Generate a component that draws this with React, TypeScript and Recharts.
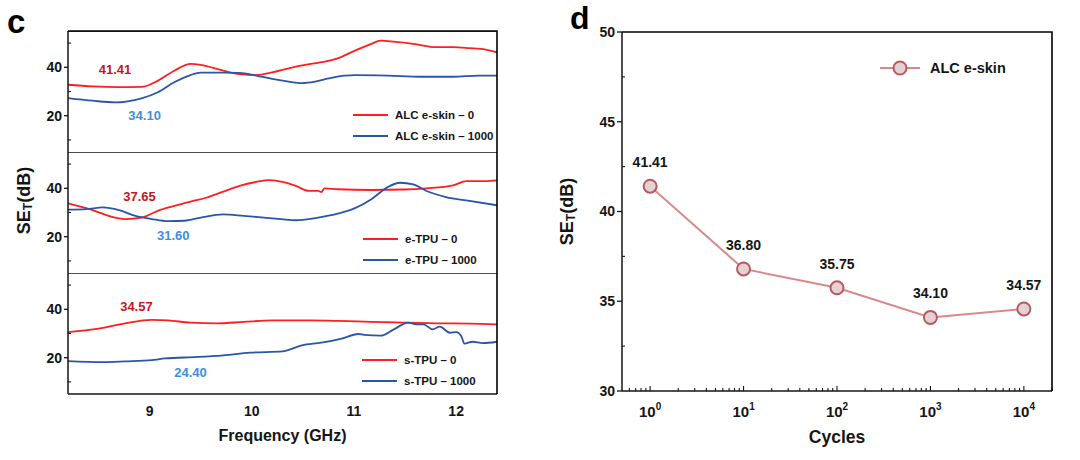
import React from 'react';
import { LineChart, Line, XAxis, YAxis, ReferenceDot, ReferenceLine, Legend, LabelList } from 'recharts';

const FONT = '"Liberation Sans", Arial, Helvetica, sans-serif';
const INK = '#151515';
const RED = '#ff1e1e';
const BLUE = '#2a55a8';
const RED_NOTE = '#c5161d';
const BLUE_NOTE = '#3d8fde';
const ROSE_LINE = '#d8898b';
const ROSE_FILL = '#e7d0d4';
const ROSE_EDGE = '#b55a60';

// ---------- panel c : SE_T vs frequency (three stacked panels) ----------
const FREQ_DOMAIN: [number, number] = [8.2, 12.4];
const SE_DOMAIN: [number, number] = [5, 55];
const freqTicks = [9, 10, 11, 12];
const freqMarks = [8.5, 9, 9.5, 10, 10.5, 11, 11.5, 12];
const seTicks = [20, 40];
const seMinor = [10, 30, 50];

// ALC e-skin
const alc0Freq = [8.2, 8.44, 8.7, 8.92, 9.08, 9.24, 9.4, 9.5, 9.72, 9.88, 10.04, 10.2, 10.36, 10.52, 10.68, 10.84, 11.01, 11.17, 11.26, 11.39, 11.58, 11.81, 11.97, 12.13, 12.29, 12.4];
const alc0SE = [32.8, 32.1, 31.8, 31.9, 34.5, 38.6, 41.4, 41.0, 38.6, 37.2, 36.8, 37.9, 39.6, 41.0, 42.1, 43.7, 46.9, 49.7, 51.0, 50.6, 49.7, 48.3, 48.3, 47.9, 47.3, 46.2];
const alc1000Freq = [8.2, 8.44, 8.66, 8.92, 9.08, 9.24, 9.4, 9.5, 9.72, 9.88, 10.04, 10.2, 10.36, 10.49, 10.62, 10.75, 10.91, 11.01, 11.33, 11.65, 11.97, 12.22, 12.4];
const alc1000SE = [27.3, 26.2, 25.5, 27.2, 29.7, 33.8, 36.8, 37.8, 37.8, 37.7, 36.6, 35.2, 34.1, 33.5, 34.1, 35.4, 36.6, 36.8, 36.6, 36.1, 36.1, 36.6, 36.6];

// e-TPU
const etpu0Freq = [8.2, 8.44, 8.6, 8.76, 8.92, 9.08, 9.24, 9.4, 9.56, 9.72, 9.88, 10.04, 10.17, 10.3, 10.43, 10.56, 10.65, 10.68, 10.71, 10.85, 11.17, 11.49, 11.71, 11.97, 12.1, 12.29, 12.4];
const etpu0SE = [33.8, 31.0, 28.6, 27.3, 27.9, 30.7, 32.7, 34.5, 36.2, 38.6, 41.0, 42.6, 43.4, 42.7, 41.0, 38.9, 38.9, 38.4, 40.0, 39.6, 39.3, 39.5, 40.0, 41.2, 43.0, 43.0, 43.3];
const etpu1000Freq = [8.2, 8.38, 8.54, 8.7, 8.86, 9.02, 9.18, 9.34, 9.5, 9.72, 9.92, 10.17, 10.43, 10.62, 10.85, 11.01, 11.17, 11.33, 11.45, 11.58, 11.71, 11.9, 12.13, 12.4];
const etpu1000SE = [31.2, 31.4, 32.1, 31.0, 28.6, 27.3, 26.4, 26.6, 27.9, 29.2, 28.6, 27.7, 26.8, 27.7, 29.6, 31.8, 35.5, 40.5, 42.3, 41.6, 38.9, 36.4, 34.8, 33.0];

// s-TPU
const stpu0Freq = [8.2, 8.5, 8.76, 9.02, 9.18, 9.4, 9.66, 9.92, 10.2, 10.56, 10.85, 11.17, 11.49, 11.81, 12.13, 12.4];
const stpu0SE = [30.6, 32.0, 34.2, 35.6, 35.4, 34.5, 34.2, 34.8, 35.4, 35.4, 35.2, 34.8, 34.5, 34.2, 34.1, 33.8];
const stpu1000Freq = [8.2, 8.54, 8.76, 9.02, 9.15, 9.47, 9.72, 9.98, 10.3, 10.49, 10.68, 10.88, 11.04, 11.1, 11.26, 11.39, 11.53, 11.61, 11.68, 11.77, 11.84, 11.94, 12.0, 12.05, 12.08, 12.16, 12.26, 12.4];
const stpu1000SE = [18.6, 18.2, 18.5, 19.0, 19.7, 20.3, 21.0, 22.1, 22.6, 25.1, 26.2, 27.9, 29.8, 29.4, 29.1, 31.7, 34.5, 33.8, 33.8, 31.7, 32.8, 30.3, 30.6, 29.0, 25.8, 26.6, 26.0, 26.6];

// averaged values written on each panel
const alcNotes = ['41.41', '34.10'];
const etpuNotes = ['37.65', '31.60'];
const stpuNotes = ['34.57', '24.40'];

// ---------- panel d : SE_T vs cycles ----------
const cycles = [1, 10, 100, 1000, 10000];
const cycleSE = [41.41, 36.8, 35.75, 34.1, 34.57];
const cycleTicks = [1, 10, 100, 1000, 10000];
const cycleSETicks = [30, 35, 40, 45, 50];
const cycleSEMinor = [32.5, 37.5, 42.5, 47.5];
const CYCLE_DOMAIN: [number, number] = [0.5, 20000];

const cycleMarks = [0.6, 0.7, 0.8, 0.9, ...cycleTicks.flatMap((d) => [1, 2, 3, 4, 5, 6, 7, 8, 9].map((k) => k * d))].filter((v) => v <= 20000);

const toPoints = (fs: number[], vs: number[]) => fs.map((f, i) => ({ f, v: vs[i] }));

const textStyle = { fill: INK, fontSize: 14, fontWeight: 700, fontFamily: FONT };
const frameLine = { stroke: INK, strokeWidth: 1.5 };

// tick marks drawn inward from the plot edge
const renderXMark = (props: any) => {
  const { x, y, payload } = props;
  const len = Number.isInteger(payload.value) ? 5 : 3;
  return <line x1={x} y1={y} x2={x} y2={y - len} stroke={INK} strokeWidth={1.2} />;
};
const renderLogMark = (props: any) => {
  const { x, y, payload } = props;
  const major = cycleTicks.includes(payload.value);
  return <line x1={x} y1={y} x2={x} y2={y - (major ? 5 : 3)} stroke={INK} strokeWidth={1.1} />;
};
const renderYMark = (props: any) => {
  const { x, y } = props;
  return <line x1={x} y1={y} x2={x + 3} y2={y} stroke={INK} strokeWidth={1.1} />;
};

const renderFreqTick = (props: any) => {
  const { x, y, payload } = props;
  return (
    <text x={x} y={y + 22} textAnchor="middle" {...textStyle}>
      {payload.value}
    </text>
  );
};

const renderPowTick = (props: any) => {
  const { x, y, payload } = props;
  const exp = Math.round(Math.log10(payload.value));
  return (
    <text x={x} y={y + 26} textAnchor="middle" {...textStyle} fontSize={15}>
      10<tspan dy={-7} fontSize={10}>{exp}</tspan>
    </text>
  );
};

const seLabel = (cx: number, shift: number) => (props: any) => {
  const { viewBox } = props;
  const cy = viewBox.y + viewBox.height / 2 + shift;
  return (
    <text
      x={cx}
      y={cy}
      transform={`rotate(-90 ${cx} ${cy})`}
      textAnchor="middle"
      dominantBaseline="central"
      fill={INK}
      fontSize={18}
      fontWeight={700}
      fontFamily={FONT}
    >
      SE<tspan fontSize={12} dy={4}>T</tspan>
      <tspan dy={-4}>(dB)</tspan>
    </text>
  );
};

const bottomLabel = (text: string, dy: number, size: number) => (props: any) => {
  const { viewBox } = props;
  return (
    <text x={viewBox.x + viewBox.width / 2} y={viewBox.y + dy} textAnchor="middle" fill={INK} fontSize={size} fontWeight={700} fontFamily={FONT}>
      {text}
    </text>
  );
};

const freqLegend = (props: any) => {
  const { payload } = props;
  return (
    <svg width={160} height={44}>
      {(payload || []).map((p: any, i: number) => (
        <g key={p.value}>
          <line x1={0} x2={35} y1={10 + i * 21} y2={10 + i * 21} stroke={p.color} strokeWidth={2} />
          <text x={42} y={10 + i * 21} dominantBaseline="central" fill={INK} fontSize={11.5} fontWeight={700} fontFamily={FONT}>
            {p.value}
          </text>
        </g>
      ))}
    </svg>
  );
};

const cycleLegend = (props: any) => {
  const { payload } = props;
  const p = (payload || [])[0];
  if (!p) return null;
  return (
    <svg width={140} height={26}>
      <line x1={1} x2={41} y1={13} y2={13} stroke={ROSE_LINE} strokeWidth={2} />
      <circle cx={21} cy={13} r={6.5} fill={ROSE_FILL} stroke={ROSE_EDGE} strokeWidth={2} />
      <text x={51} y={13} dominantBaseline="central" fill={INK} fontSize={14.5} fontWeight={700} fontFamily={FONT}>
        {p.value}
      </text>
    </svg>
  );
};

type Series = { name: string; color: string; data: { f: number; v: number }[] };
type Note = { text: string; f: number; v: number; color: string };

function FreqPanel({
  top,
  series,
  notes,
  legendLeft,
  legendTop,
  bottom = false,
  yLabel = false,
}: {
  top: number;
  series: Series[];
  notes: Note[];
  legendLeft: number;
  legendTop: number;
  bottom?: boolean;
  yLabel?: boolean;
}) {
  const height = 121 + (bottom ? 62 : 0);
  return (
    <div style={{ position: 'absolute', left: 0, top }}>
      <LineChart width={510} height={height} margin={{ top: 0, right: 13, bottom: 0, left: 0 }}>
        <XAxis
          dataKey="f"
          type="number"
          domain={FREQ_DOMAIN}
          allowDataOverflow
          hide={!bottom}
          height={bottom ? 62 : 0}
          ticks={freqTicks}
          interval={0}
          tickLine={false}
          tickSize={0}
          tickMargin={0}
          tick={renderFreqTick}
          axisLine={frameLine}
          label={bottom ? bottomLabel('Frequency (GHz)', 47, 16) : undefined}
        />
        {bottom && (
          <XAxis
            xAxisId="marks"
            orientation="bottom"
            mirror
            type="number"
            domain={FREQ_DOMAIN}
            allowDataOverflow
            ticks={freqMarks}
            interval={0}
            height={1}
            tickSize={0}
            tickMargin={0}
            tickLine={false}
            axisLine={false}
            tick={renderXMark}
          />
        )}
        <YAxis
          type="number"
          domain={SE_DOMAIN}
          allowDataOverflow
          ticks={seTicks}
          interval={0}
          width={68}
          tickSize={4}
          tickMargin={2}
          tickLine={{ stroke: INK, strokeWidth: 1.3 }}
          axisLine={frameLine}
          tick={textStyle}
          label={yLabel ? seLabel(24, -12) : undefined}
        />
        <YAxis
          yAxisId="minor"
          mirror
          type="number"
          domain={SE_DOMAIN}
          allowDataOverflow
          ticks={seMinor}
          interval={0}
          width={1}
          tickSize={0}
          tickMargin={0}
          tickLine={false}
          axisLine={false}
          tick={renderYMark}
        />
        {/* separator between stacked panels */}
        <ReferenceLine y={SE_DOMAIN[1]} stroke={INK} strokeWidth={1.5} ifOverflow="visible" />
        {series.map((s) => (
          <Line
            key={s.name}
            data={s.data}
            dataKey="v"
            name={s.name}
            type="monotone"
            stroke={s.color}
            strokeWidth={1.8}
            dot={false}
            activeDot={false}
            isAnimationActive={false}
          />
        ))}
        {notes.map((n) => (
          <ReferenceDot
            key={n.text}
            x={n.f}
            y={n.v}
            r={0}
            fill="none"
            stroke="none"
            label={{ value: n.text, position: 'center', fill: n.color, fontSize: 13, fontWeight: 700, fontFamily: FONT }}
          />
        ))}
        <Legend
          layout="vertical"
          align="center"
          verticalAlign="middle"
          content={freqLegend}
          wrapperStyle={{ left: legendLeft, top: legendTop, width: 160, height: 44 }}
        />
      </LineChart>
    </div>
  );
}

const cycleData = cycles.map((c, i) => ({ c, se: cycleSE[i] }));

function CyclePanel() {
  return (
    <div style={{ position: 'absolute', left: 540, top: 0 }}>
      <LineChart width={540} height={460} data={cycleData} margin={{ top: 32, right: 28, bottom: 0, left: 0 }}>
        <XAxis
          dataKey="c"
          type="number"
          scale="log"
          domain={CYCLE_DOMAIN}
          allowDataOverflow
          ticks={cycleTicks}
          interval={0}
          height={69}
          tickLine={false}
          tickSize={0}
          tickMargin={0}
          tick={renderPowTick}
          axisLine={frameLine}
          label={bottomLabel('Cycles', 52, 17.5)}
        />
        <XAxis
          xAxisId="marks"
          dataKey="c"
          orientation="bottom"
          mirror
          type="number"
          scale="log"
          domain={CYCLE_DOMAIN}
          allowDataOverflow
          ticks={cycleMarks}
          interval={0}
          height={1}
          tickSize={0}
          tickMargin={0}
          tickLine={false}
          axisLine={false}
          tick={renderLogMark}
        />
        <YAxis
          type="number"
          domain={[30, 50]}
          allowDataOverflow
          ticks={cycleSETicks}
          interval={0}
          width={82}
          tickSize={5}
          tickMargin={2}
          tickLine={{ stroke: INK, strokeWidth: 1.3 }}
          axisLine={frameLine}
          tick={textStyle}
          label={seLabel(27, 0)}
        />
        <YAxis
          yAxisId="minor"
          mirror
          type="number"
          domain={[30, 50]}
          allowDataOverflow
          ticks={cycleSEMinor}
          interval={0}
          width={1}
          tickSize={0}
          tickMargin={0}
          tickLine={false}
          axisLine={false}
          tick={renderYMark}
        />
        <Line
          dataKey="se"
          name="ALC e-skin"
          type="linear"
          stroke={ROSE_LINE}
          strokeWidth={2}
          dot={{ r: 6.5, fill: ROSE_FILL, stroke: ROSE_EDGE, strokeWidth: 2 }}
          activeDot={false}
          isAnimationActive={false}
        >
          <LabelList
            dataKey="se"
            position="top"
            offset={19}
            formatter={(v: any) => Number(v).toFixed(2)}
            fill={INK}
            fontSize={14}
            fontWeight={700}
            fontFamily={FONT}
          />
        </Line>
        <Legend
          layout="vertical"
          align="center"
          verticalAlign="middle"
          content={cycleLegend}
          wrapperStyle={{ left: 339, top: 55, width: 140, height: 26 }}
        />
      </LineChart>
    </div>
  );
}

// top and right edges of the plot boxes (the axes draw left and bottom)
const frameEdge = (left: number, top: number, width: number, height: number) => (
  <svg
    width={width + 4}
    height={height + 4}
    style={{ position: 'absolute', left: left - 2, top: top - 2, pointerEvents: 'none', zIndex: 5 }}
  >
    <polyline
      points={`2,2 ${width + 2},2 ${width + 2},${height + 2}`}
      fill="none"
      stroke="#000"
      strokeWidth={1.6}
    />
  </svg>
);

export default function App() {
  const alcSeries: Series[] = [
    { name: 'ALC e-skin – 0', color: RED, data: toPoints(alc0Freq, alc0SE) },
    { name: 'ALC e-skin – 1000', color: BLUE, data: toPoints(alc1000Freq, alc1000SE) },
  ];
  const etpuSeries: Series[] = [
    { name: 'e-TPU – 0', color: RED, data: toPoints(etpu0Freq, etpu0SE) },
    { name: 'e-TPU – 1000', color: BLUE, data: toPoints(etpu1000Freq, etpu1000SE) },
  ];
  const stpuSeries: Series[] = [
    { name: 's-TPU – 0', color: RED, data: toPoints(stpu0Freq, stpu0SE) },
    { name: 's-TPU – 1000', color: BLUE, data: toPoints(stpu1000Freq, stpu1000SE) },
  ];

  return (
    <div style={{ position: 'absolute', left: 0, top: 0, width: 1080, height: 460, background: '#fff', fontFamily: FONT }}>
      <svg width={1080} height={40} style={{ position: 'absolute', left: 0, top: 0 }}>
        <text x={7} y={33} fontSize={33} fontWeight={700} fill="#000" fontFamily={FONT}>c</text>
        <text x={570} y={29} fontSize={32} fontWeight={700} fill="#000" fontFamily={FONT}>d</text>
      </svg>
      <FreqPanel
        top={31}
        series={alcSeries}
        notes={[
          { text: alcNotes[0], f: 8.66, v: 39.0, color: RED_NOTE },
          { text: alcNotes[1], f: 8.95, v: 20.3, color: BLUE_NOTE },
        ]}
        legendLeft={353}
        legendTop={74}
      />
      <FreqPanel
        top={152}
        yLabel
        series={etpuSeries}
        notes={[
          { text: etpuNotes[0], f: 8.9, v: 36.8, color: RED_NOTE },
          { text: etpuNotes[1], f: 9.23, v: 20.7, color: BLUE_NOTE },
        ]}
        legendLeft={363}
        legendTop={77}
      />
      <FreqPanel
        top={273}
        bottom
        series={stpuSeries}
        notes={[
          { text: stpuNotes[0], f: 8.87, v: 41.1, color: RED_NOTE },
          { text: stpuNotes[1], f: 9.4, v: 13.8, color: BLUE_NOTE },
        ]}
        legendLeft={362}
        legendTop={77}
      />
      <CyclePanel />
      {frameEdge(68, 31, 429, 363)}
      {frameEdge(622, 32, 430, 359)}
    </div>
  );
}
